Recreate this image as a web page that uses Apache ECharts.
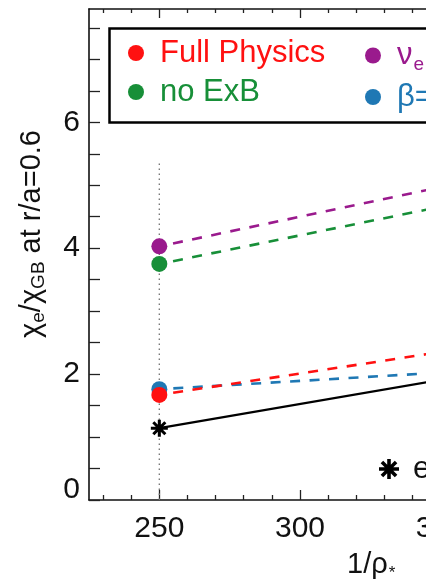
<!DOCTYPE html>
<html>
<head>
<meta charset="utf-8">
<script src="https://cdn.jsdelivr.net/npm/echarts@6/dist/echarts.min.js"></script>
<style>
  html, body { margin: 0; padding: 0; background: #fff; }
  #chart { width: 426px; height: 580px; }
</style>
</head>
<body>
<div id="chart"></div>
<script>
// 1/rho_* scan: electron heat diffusivity at r/a = 0.6
const rhoInv      = [250, 500];
const fullPhysics = [1.67, 3.37];
const noExB       = [3.75, 6.02];
const nuE         = [4.03, 6.38];
const betaLow     = [1.76, 2.42];
const experiment  = [1.14, 3.06];

// reference line drawn at the lowest 1/rho_* value
const guideX   = 250;
const guideTop = 5.36;

// axis ticks and labels
const xMajorTicks = [250, 300, 350, 400, 450, 500];
const xMinorTicks = [230, 240, 260, 270, 280, 290, 310, 320, 330, 340, 360, 370, 380, 390,
                     410, 420, 430, 440, 460, 470, 480, 490, 510, 520];
const yTicks  = [0, 0.5, 1, 1.5, 2, 2.5, 3, 3.5, 4, 4.5, 5, 5.5, 6, 6.5, 7, 7.5];
const yLabels = [0, 2, 4, 6];

const FONT = '"Liberation Sans", Arial, Helvetica, sans-serif';
const RED = '#ff1111', GREEN = '#178f38', PURPLE = '#9a1a8d', BLUE = '#1f78b4';

// eight-armed asterisk built from four overlapping bars
function asteriskPath(L, h) {
  let d = '';
  [0, 45, 90, 135].forEach(function (a) {
    const t = a * Math.PI / 180, c = Math.cos(t), s = Math.sin(t);
    const pts = [[L, h], [L, -h], [-L, -h], [-L, h]].map(function (p) {
      return [p[0] * c - p[1] * s, p[0] * s + p[1] * c];
    });
    d += 'M' + pts.map(function (p) { return p[0].toFixed(3) + ',' + p[1].toFixed(3); }).join('L') + 'Z';
  });
  return 'path://' + d;
}
const STAR = asteriskPath(10, 1.8);

function pairs(xs, ys) { return xs.map(function (x, i) { return [x, ys[i]]; }); }

function dashed(name, ys, color, z) {
  return {
    name: name, type: 'line', data: pairs(rhoInv, ys), z: z,
    symbol: 'circle', symbolSize: 16,
    itemStyle: { color: color },
    lineStyle: { color: color, width: 2.6, type: [10, 9.5], dashOffset: 5.5 },
    emphasis: { disabled: true }
  };
}

const xMin = 225, xMax = 525;

function xAxisDef(pos, ticks, len, showLine, showLabels) {
  return {
    type: 'value', position: pos, min: xMin, max: xMax, gridIndex: 0,
    axisLine: { show: showLine, onZero: false, lineStyle: { color: '#111', width: 1.6 } },
    axisTick: { show: true, inside: true, length: len, customValues: ticks,
                lineStyle: { color: '#222', width: 1.3 } },
    axisLabel: { show: showLabels, customValues: xMajorTicks, margin: 14,
                 fontSize: 30, fontFamily: FONT, color: '#111' },
    splitLine: { show: false }
  };
}

const chart = echarts.init(document.getElementById('chart'), null, { renderer: 'canvas' });

chart.setOption({
  animation: false,
  backgroundColor: '#fff',
  grid: { left: 89, top: 9, width: 844, height: 491, containLabel: false, outerBoundsMode: 'none' },
  xAxis: [
    xAxisDef('bottom', xMajorTicks, 10, true, true),
    xAxisDef('bottom', xMinorTicks, 5, false, false),
    xAxisDef('top', xMajorTicks, 9, true, false),
    xAxisDef('top', xMinorTicks, 4, false, false)
  ],
  yAxis: [{
    type: 'value', min: 0, max: 7.8, position: 'left',
    axisLine: { show: true, lineStyle: { color: '#111', width: 1.6 } },
    axisTick: { show: true, inside: true, length: 11, customValues: yTicks,
                lineStyle: { color: '#222', width: 1.3 } },
    axisLabel: {
      customValues: yLabels, margin: 9, fontSize: 30, fontFamily: FONT, color: '#111',
      formatter: function (v) { return v === 0 ? '{z|0}' : '{n|' + v + '}'; },
      rich: {
        n: { fontSize: 30, fontFamily: FONT, color: '#111' },
        z: { fontSize: 30, fontFamily: FONT, color: '#111', padding: [0, 0, 20, 0] }
      }
    },
    splitLine: { show: false }
  }, {
    type: 'value', min: 0, max: 7.8, position: 'right',
    axisLine: { show: true, lineStyle: { color: '#111', width: 1.6 } },
    axisTick: { show: true, inside: true, length: 11, customValues: yTicks },
    axisLabel: { show: false },
    splitLine: { show: false }
  }],
  legend: [{
    left: 123, top: 32, orient: 'vertical', itemGap: 7,
    itemWidth: 16, itemHeight: 16, icon: 'circle', selectedMode: false,
    data: [
      { name: 'Full Physics', textStyle: { color: RED } },
      { name: 'no ExB', textStyle: { color: GREEN } }
    ],
    textStyle: { fontSize: 31, fontFamily: FONT, lineHeight: 32, padding: [0, 0, 0, 11] }
  }, {
    left: 360, top: 32, orient: 'vertical', itemGap: 7,
    itemWidth: 16, itemHeight: 16, icon: 'circle', selectedMode: false,
    data: [
      { name: 'nu_e', textStyle: { color: PURPLE } },
      { name: 'beta', textStyle: { color: BLUE } }
    ],
    formatter: function (n) {
      return n === 'nu_e' ? '{a|ν}{s|e}{a|  = 0}' : '{a|β=0}';
    },
    textStyle: {
      fontSize: 31, fontFamily: FONT, lineHeight: 32, padding: [0, 0, 0, 11],
      rich: {
        a: { fontSize: 31, fontFamily: FONT, lineHeight: 32 },
        s: { fontSize: 19, fontFamily: FONT, lineHeight: 32, padding: [18, 0, 0, 1] }
      }
    }
  }, {
    left: 374, top: 448, orient: 'horizontal',
    itemWidth: 20, itemHeight: 20, selectedMode: false,
    data: [{ name: 'experiment', icon: STAR, itemStyle: { color: '#000' } }],
    textStyle: { fontSize: 31, fontFamily: FONT, color: '#111', lineHeight: 32, padding: [0, 0, 0, 9] }
  }],
  graphic: [{
    type: 'rect', z: 3,
    shape: { x: 109.5, y: 28.5, width: 700, height: 94 },
    style: { fill: '#fff', stroke: '#000', lineWidth: 2.5 }
  }, {
    type: 'text', x: 32, y: 234, rotation: Math.PI / 2,
    style: {
      text: '{n|χ}{s|e}{n|/χ}{s|GB}{n| at r/a=0.6}',
      align: 'center', verticalAlign: 'middle',
      rich: {
        n: { fontSize: 29, fontFamily: FONT, fill: '#111', lineHeight: 34 },
        s: { fontSize: 19, fontFamily: FONT, fill: '#111', lineHeight: 34, padding: [14, 0, 0, 0] }
      }
    }
  }, {
    type: 'text', x: 347, y: 565,
    style: {
      text: '{n|1/ρ}{s|*}',
      align: 'left', verticalAlign: 'middle',
      rich: {
        n: { fontSize: 29, fontFamily: FONT, fill: '#111', lineHeight: 34 },
        s: { fontSize: 17, fontFamily: FONT, fill: '#111', lineHeight: 34, padding: [16, 0, 0, 1] }
      }
    }
  }],
  series: [
    {
      name: 'guide', type: 'line', data: [[guideX, 0], [guideX, guideTop]], z: 1,
      symbol: 'none', silent: true,
      lineStyle: { color: '#777', width: 1.4, type: [1.6, 3.4] }
    },
    dashed('no ExB', noExB, GREEN, 2),
    dashed('nu_e', nuE, PURPLE, 3),
    dashed('beta', betaLow, BLUE, 4),
    dashed('Full Physics', fullPhysics, RED, 5),
    {
      name: 'experiment', type: 'line', data: pairs(rhoInv, experiment), z: 6,
      symbol: STAR, symbolSize: 17,
      itemStyle: { color: '#000' },
      lineStyle: { color: '#000', width: 2.3 },
      emphasis: { disabled: true }
    }
  ]
});
</script>
</body>
</html>
